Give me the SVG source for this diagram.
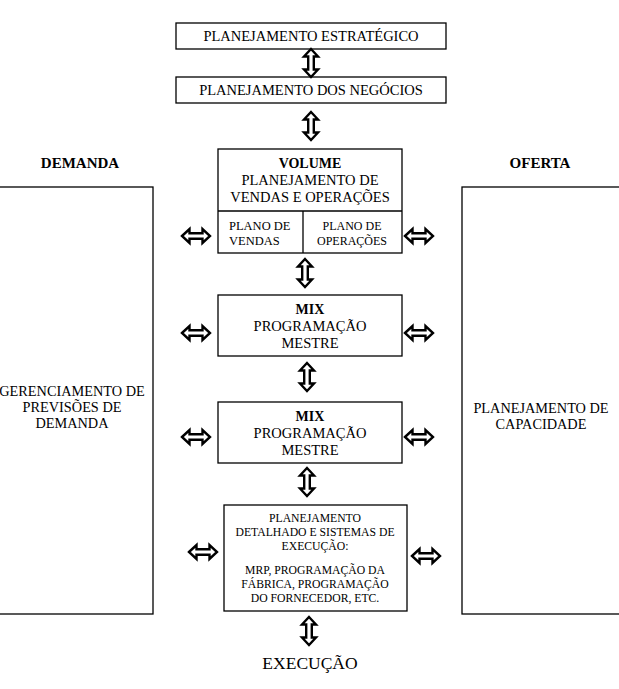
<svg xmlns="http://www.w3.org/2000/svg" xmlns:xlink="http://www.w3.org/1999/xlink" width="619" height="689" viewBox="0 0 619 689">
<style>
.box{fill:#fff;stroke:#000;stroke-width:1.3}
.t{font-family:"Liberation Serif","Times New Roman",serif;fill:#000;text-anchor:middle}
.b{font-weight:bold}
.arr{fill:#fff;stroke:#000;stroke-width:2.4;stroke-linejoin:miter}
</style>
<defs>
<path id="dv" class="arr" d="M0,-14 L7,-6.5 L2.8,-6.5 L2.8,6.5 L7,6.5 L0,14 L-7,6.5 L-2.8,6.5 L-2.8,-6.5 L-7,-6.5 Z"/>
<path id="dh" class="arr" d="M-14,0 L-6.5,-7 L-6.5,-2.8 L6.5,-2.8 L6.5,-7 L14,0 L6.5,7 L6.5,2.8 L-6.5,2.8 L-6.5,7 Z"/>
</defs>
<rect width="619" height="689" fill="#fff"/>

<g id="estrategico">
<rect class="box" x="176" y="23" width="270" height="26"/>
<text class="t" x="311" y="41" font-size="14.5">PLANEJAMENTO ESTRATÉGICO</text>
</g>
<g id="negocios">
<rect class="box" x="176" y="77" width="270" height="26"/>
<text class="t" x="311" y="95" font-size="14.5">PLANEJAMENTO DOS NEGÓCIOS</text>
</g>
<g id="demanda">
<text class="t b" x="80" y="168" font-size="15">DEMANDA</text>
<rect class="box" x="-2" y="187" width="155" height="427"/>
<text class="t" x="72" y="396" font-size="14.3">GERENCIAMENTO DE</text>
<text class="t" x="72" y="412" font-size="14.3">PREVISÕES DE</text>
<text class="t" x="72" y="428" font-size="14.3">DEMANDA</text>
</g>
<g id="oferta">
<text class="t b" x="540" y="168" font-size="15">OFERTA</text>
<rect class="box" x="462" y="187" width="160" height="427"/>
<text class="t" x="541" y="413" font-size="14.3">PLANEJAMENTO DE</text>
<text class="t" x="541" y="429" font-size="14.3">CAPACIDADE</text>
</g>
<g id="volume">
<rect class="box" x="218" y="149" width="184" height="104"/>
<line x1="218" y1="211" x2="402" y2="211" stroke="#000" stroke-width="1.3"/>
<line x1="303" y1="211" x2="303" y2="253" stroke="#000" stroke-width="1.3"/>
<text class="t b" x="310" y="168" font-size="14">VOLUME</text>
<text class="t" x="310" y="185" font-size="14.5">PLANEJAMENTO DE</text>
<text class="t" x="310" y="202" font-size="14.5">VENDAS E OPERAÇÕES</text>
<text x="229" y="230" font-size="12.5" font-family="Liberation Serif, serif">PLANO DE</text>
<text x="229" y="245" font-size="12.5" font-family="Liberation Serif, serif">VENDAS</text>
<text class="t" x="352" y="230" font-size="12">PLANO DE</text>
<text class="t" x="352" y="245" font-size="12">OPERAÇÕES</text>
</g>
<g id="mix1">
<rect class="box" x="218" y="295" width="184" height="61"/>
<text class="t b" x="310" y="314" font-size="14">MIX</text>
<text class="t" x="310" y="331" font-size="14.5">PROGRAMAÇÃO</text>
<text class="t" x="310" y="348" font-size="14.5">MESTRE</text>
</g>
<g id="mix2">
<rect class="box" x="218" y="402" width="184" height="61"/>
<text class="t b" x="310" y="421" font-size="14">MIX</text>
<text class="t" x="310" y="438" font-size="14.5">PROGRAMAÇÃO</text>
<text class="t" x="310" y="455" font-size="14.5">MESTRE</text>
</g>
<g id="detalhado">
<rect class="box" x="224" y="505" width="183" height="106"/>
<text class="t" x="315" y="522" font-size="11.7">PLANEJAMENTO</text>
<text class="t" x="315" y="536" font-size="11.7">DETALHADO E SISTEMAS DE</text>
<text class="t" x="315" y="550" font-size="11.7">EXECUÇÃO:</text>
<text class="t" x="315" y="574" font-size="11.7">MRP, PROGRAMAÇÃO DA</text>
<text class="t" x="315" y="588" font-size="11.7">FÁBRICA, PROGRAMAÇÃO</text>
<text class="t" x="315" y="602" font-size="11.7">DO FORNECEDOR, ETC.</text>
</g>
<g id="execucao">
<text class="t" x="310" y="669" font-size="17.5">EXECUÇÃO</text>
</g>

<g id="connectors">
<use xlink:href="#dv" x="311" y="63"/>
<use xlink:href="#dv" x="311" y="126"/>
<use xlink:href="#dv" x="305" y="273"/>
<use xlink:href="#dv" x="307" y="377"/>
<use xlink:href="#dv" x="307" y="482"/>
<use xlink:href="#dv" x="309" y="631"/>
<use xlink:href="#dh" x="196" y="236"/>
<use xlink:href="#dh" x="419" y="236"/>
<use xlink:href="#dh" x="196" y="333"/>
<use xlink:href="#dh" x="419" y="333"/>
<use xlink:href="#dh" x="196" y="437"/>
<use xlink:href="#dh" x="419" y="437"/>
<use xlink:href="#dh" x="203" y="552"/>
<use xlink:href="#dh" x="426" y="556"/>
</g>
</svg>
